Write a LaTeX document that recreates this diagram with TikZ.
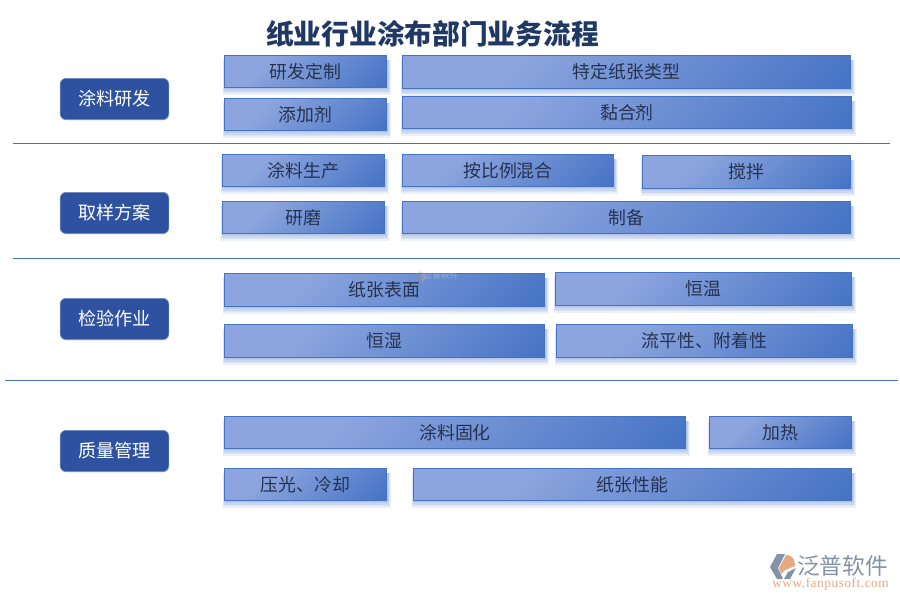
\documentclass[tikz,border=0pt]{standalone}
\usepackage{fontspec}
\setmainfont{Noto Sans CJK SC}[Scale=1]
\newfontfamily\latinserif{Liberation Serif}[LetterSpace=4]
\usetikzlibrary{calc}
\definecolor{boxlight}{HTML}{8CA5DE}
\definecolor{boxdark}{HTML}{4472C4}
\definecolor{navy}{HTML}{2F52A0}
\definecolor{navyedge}{HTML}{6F8BC4}
\definecolor{rulec}{HTML}{4472C4}
\definecolor{titlec}{HTML}{1F3864}
\definecolor{boxtext}{HTML}{26324F}
\definecolor{logogray}{HTML}{8492A8}
\definecolor{logoorange}{HTML}{E8A882}
\pgfdeclarehorizontalshading{boxsh}{100bp}{color(0bp)=(boxlight);color(32bp)=(boxlight);color(86bp)=(boxdark);color(100bp)=(boxdark)}
\tikzset{
  x=0.75pt,y=-0.75pt,
  flowbox/.style={draw=boxdark,line width=0.6pt,shading=boxsh,shading angle=-45,inner sep=0pt,outer sep=0pt,font=\fontsize{13.4}{13.4}\selectfont,text=boxtext},
  cat/.style={draw=navyedge,line width=0.5pt,fill=navy,rounded corners=4.5pt,inner sep=0pt,outer sep=0pt,minimum width=81.5pt,minimum height=31pt,font=\fontsize{13.6}{13.6}\selectfont,text=white},
  sep/.style={draw=rulec,line width=0.6pt},
  shadowlayer/.style={fill=boxdark,draw=none,opacity=0.10}
}
% name, x1, y1, x2, y2, text
\newcommand{\flow}[6]{%
  \foreach \d in {0,1,2,3,4}{\fill[shadowlayer] ({#2+1-\d*0.6},{#3+5}) rectangle ({#4+1+\d*0.7},{#5+1+\d*1.4});}%
  \node[flowbox,minimum width={(#4-#2)*0.75pt-0.6pt},minimum height={(#5-#3)*0.75pt-0.6pt}] (#1) at ({(#2+#4)/2},{(#3+#5)/2}) {#6};}
\begin{document}
\begin{tikzpicture}
\useasboundingbox (0,0) rectangle (900,600);
\node[font=\fontsize{20.8}{20.8}\selectfont\bfseries,text=titlec] (title) at (432.5,34) {纸业行业涂布部门业务流程};
\coordinate (a1) at (13,143.5); \coordinate (a2) at (890,143.5);
\coordinate (b1) at (13,258.5); \coordinate (b2) at (900,258.5);
\coordinate (c1) at (5,380.5); \coordinate (c2) at (898,380.5);
\draw[sep] (a1) -- (a2); \draw[sep] (b1) -- (b2); \draw[sep] (c1) -- (c2);
\node[cat] (k1) at (114.5,99) {涂料研发};
\node[cat] (k2) at (114.5,213) {取样方案};
\node[cat] (k3) at (114.5,319) {检验作业};
\node[cat] (k4) at (114.5,451) {质量管理};
\flow{b1a}{224}{55}{387}{88}{研发定制}
\flow{b1b}{402}{55}{851}{89}{特定纸张类型}
\flow{b1c}{224}{98}{387}{131}{添加剂}
\flow{b1d}{402}{96}{852}{129}{黏合剂}
\flow{b2a}{222}{154}{385}{187}{涂料生产}
\flow{b2b}{402}{154}{614}{187}{按比例混合}
\flow{b2c}{642}{155}{851}{189}{搅拌}
\flow{b2d}{222}{201}{385}{234}{研磨}
\flow{b2e}{402}{201}{851}{234}{制备}
\flow{b3a}{224}{273}{545}{307}{纸张表面}
\flow{b3b}{555}{272}{852}{306}{恒温}
\flow{b3c}{224}{324}{545}{358}{恒湿}
\flow{b3d}{556}{324}{853}{358}{流平性、附着性}
\flow{b4a}{224}{416}{686}{449}{涂料固化}
\flow{b4b}{709}{416}{852}{449}{加热}
\flow{b4c}{224}{468}{387}{501}{压光、冷却}
\flow{b4d}{413}{468}{852}{501}{纸张性能}
% faint watermark
\begin{scope}[opacity=0.28]
\fill[logogray] (415,274) -- (421,271) -- (421,284) -- (415,281) -- cycle;
\fill[logoorange] (421,271) -- (426,274) -- (426,279) -- (421,282) -- cycle;
\node[font=\fontsize{6.5}{6.5}\selectfont,text=white] (wm) at (441,275) {泛普软件};
\end{scope}
% logo
\fill[logogray] (777,554) -- (785,554) -- (778,568) -- (783,579) -- (777,579) -- (770,567) -- cycle;
\fill[logoorange] (786,555) .. controls (793,555) and (795,560) .. (795,566) -- (785,570) -- (781,574) -- (779,568) -- cycle;
\fill[logogray] (784,579) -- (788,572) -- (796,568) -- (790,579) -- cycle;
\node[font=\fontsize{17}{17}\selectfont,text=logogray,anchor=west,inner sep=0pt] (lg) at (797,566) {泛普软件};
\node[font=\latinserif\fontsize{10}{10}\selectfont,text=logoorange,anchor=west,inner sep=0pt] (lu) at (772,584.5) {www.fanpusoft.com};
\end{tikzpicture}
\end{document}
